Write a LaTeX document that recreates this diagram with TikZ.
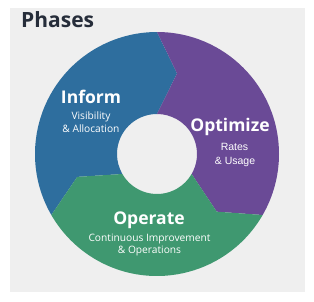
\documentclass[tikz,border=0pt]{standalone}
\usepackage{fontspec}
\setmainfont{Open Sans}
\newfontfamily\arialfont{Liberation Sans}
\definecolor{bgGrey}{HTML}{EFEFEF}
\definecolor{informBlue}{HTML}{2E6E9E}
\definecolor{optimPurple}{HTML}{6A4A96}
\definecolor{operGreen}{HTML}{3F9870}
\definecolor{titleInk}{HTML}{262D3A}
\begin{document}
\begin{tikzpicture}[x=1pt,y=1pt,
  heading/.style={text=white, font=\bfseries\fontsize{17.5}{21}\selectfont, anchor=base, inner sep=0pt},
  subtext/.style={text=white, font=\fontsize{10.2}{12.5}\selectfont, anchor=base, inner sep=0pt},
  subarial/.style={text=white, font=\arialfont\fontsize{10.5}{12.5}\selectfont, anchor=base, inner sep=0pt}]
\useasboundingbox (0,0) rectangle (314,301);
\fill[white] (0,0) rectangle (314,301);
\fill[bgGrey] (10,9) rectangle (305,293);
\def\Ro{122}\def\Ri{40}\def\Rm{83}\def\tw{14}
\begin{scope}[shift={(157,147)}]
% blue: 210 -> 90
\fill[informBlue] (210:\Ro) arc[start angle=210, end angle=90, radius=\Ro]
  -- (90-\tw:\Rm) -- (90:\Ri) arc[start angle=90, end angle=210, radius=\Ri]
  -- (210-\tw:\Rm) -- cycle;
% purple: 90 -> -30
\fill[optimPurple] (90:\Ro) arc[start angle=90, end angle=-30, radius=\Ro]
  -- (-30-\tw:\Rm) -- (-30:\Ri) arc[start angle=-30, end angle=90, radius=\Ri]
  -- (90-\tw:\Rm) -- cycle;
% green: -30 -> -150
\fill[operGreen] (-30:\Ro) arc[start angle=-30, end angle=-150, radius=\Ro]
  -- (-150-\tw:\Rm) -- (-150:\Ri) arc[start angle=-150, end angle=-30, radius=\Ri]
  -- (-30-\tw:\Rm) -- cycle;
\end{scope}
\node[anchor=base west, inner sep=0pt, text=titleInk, font=\bfseries\fontsize{21}{25}\selectfont] (title) at (21,274) {Phases};
\node[heading] (inform) at (91,198) {Inform};
\node[subtext] (informsub1) at (91,182) {Visibility};
\node[subtext] (informsub2) at (91,169) {\&\ Allocation};
\node[heading] (optimize) at (230,170) {Optimize};
\node[subarial] (optsub1) at (234.5,151) {Rates};
\node[subarial] (optsub2) at (235,137) {\&\ Usage};
\node[heading] (operate) at (149,77) {Operate};
\node[subtext] (opsub1) at (149.5,60) {Continuous Improvement};
\node[subtext] (opsub2) at (149.5,48) {\&\ Operations};
\end{tikzpicture}
\end{document}
